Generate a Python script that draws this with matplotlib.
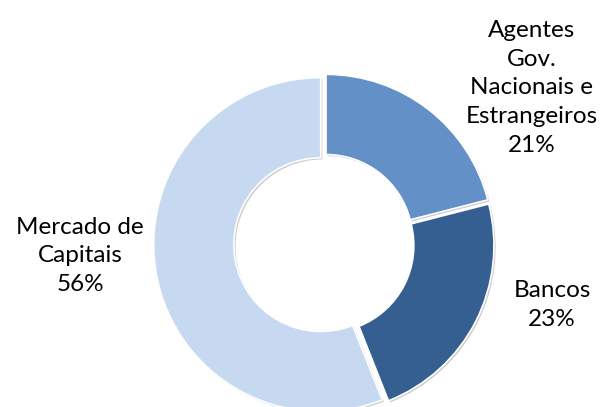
import matplotlib
matplotlib.use("Agg")
import matplotlib.pyplot as plt
import matplotlib.patheffects as pe

categories = ["Agentes\nGov.\nNacionais e\nEstrangeiros", "Bancos", "Mercado de\nCapitais"]
values = [21, 23, 56]
colors = ["#6390C7", "#365F91", "#C6D9F0"]

W, H = 600, 407
fig = plt.figure(figsize=(W / 100, H / 100), dpi=100)

cx, cy, R = 324, 244, 167
half = 200
ax = fig.add_axes([(cx - half) / W, (H - cy - half) / H, 2 * half / W, 2 * half / H])

wedges, _ = ax.pie(values, colors=colors, startangle=90, counterclock=False,
                   explode=[0.02] * len(values), radius=1.0,
                   wedgeprops=dict(width=0.48, edgecolor="white", linewidth=1.2))
for w in wedges:
    w.set_path_effects([pe.SimplePatchShadow(offset=(1.2, -1.2), shadow_rgbFace="#999999", alpha=0.5),
                        pe.Normal()])

lim = half / R
ax.set_xlim(-lim, lim)
ax.set_ylim(-lim, lim)
ax.set_aspect("equal")
ax.axis("off")

label_pos = [(532, 88), (552, 305), (80, 256)]
font = dict(family=["Lato", "DejaVu Sans"], fontsize=17.5, color="#000000", linespacing=1.45)
for name, v, (px, py) in zip(categories, values, label_pos):
    fig.text(px / W, 1 - py / H, f"{name}\n{v}%", ha="center", va="center", **font)

fig.savefig("out.png", dpi=100)
